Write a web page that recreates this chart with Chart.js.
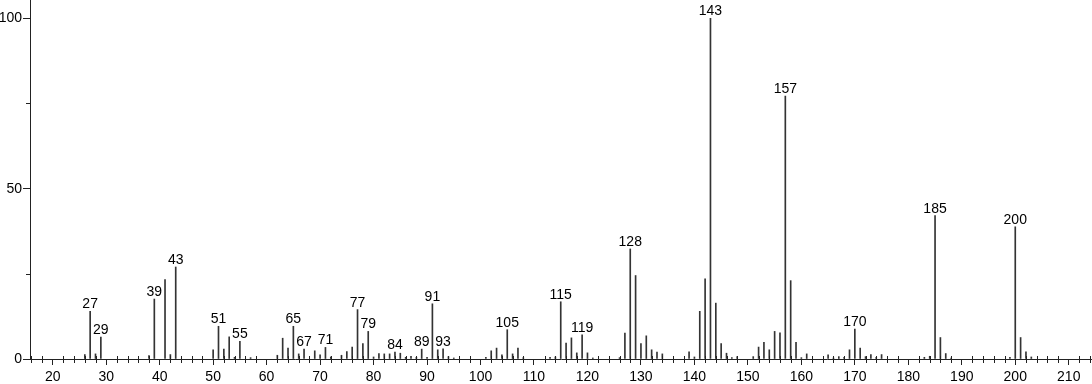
<!DOCTYPE html>
<html>
<head>
<meta charset="utf-8">
<script src="https://cdn.jsdelivr.net/npm/chart.js@4.4.1/dist/chart.umd.min.js"></script>
<style>
  html, body { margin: 0; padding: 0; background: #fff; }
  #wrap { width: 1092px; height: 384px; position: relative; }
</style>
</head>
<body>
<div id="wrap"><canvas id="spectrum"></canvas></div>
<script>
'use strict';

// ---- Spectrum data (m/z and relative intensity) ----
const masses = [
  26, 27, 28, 29, 38, 39, 41, 42, 43,
  50, 51, 52, 53, 54, 55, 57,
  62, 63, 64, 65, 66, 67, 69, 70, 71, 72, 74, 75, 76, 77, 78, 79,
  80, 81, 82, 83, 84, 85, 86, 87, 88, 89, 90, 91, 92, 93, 94, 95,
  101, 102, 103, 104, 105, 106, 107, 108, 113, 114, 115, 116, 117, 118, 119,
  120, 121, 126, 127, 128, 129, 130, 131, 132, 133, 134, 139,
  140, 141, 142, 143, 144, 145, 146, 147, 148, 151, 152, 153, 154, 155, 156, 157, 158, 159,
  160, 161, 165, 166, 167, 168, 169, 170, 171, 172, 173, 174, 175,
  183, 184, 185, 186, 187, 188, 199, 200, 201, 202, 203
];
const intensities = [
  1.3, 14.0, 1.5, 6.4, 1.0, 17.6, 23.3, 1.3, 27.0,
  2.7, 9.6, 2.9, 6.5, 0.5, 5.2, 0.4,
  1.1, 6.1, 3.2, 9.6, 1.5, 2.9, 2.4, 1.2, 3.4, 0.6, 1.1, 2.2, 3.5, 14.5, 4.5, 8.1,
  0.6, 1.6, 1.5, 1.5, 2.0, 1.7, 0.5, 0.8, 0.5, 2.9, 0.5, 16.2, 2.7, 3.0, 0.7, 0.3,
  0.5, 2.4, 3.2, 1.2, 8.6, 1.5, 3.2, 0.4, 0.5, 0.6, 16.8, 4.7, 6.2, 1.8, 7.1,
  1.8, 0.3, 0.4, 7.6, 32.3, 24.5, 4.5, 6.8, 2.7, 2.0, 1.5, 2.1,
  0.6, 14.0, 23.5, 100, 16.4, 4.5, 1.7, 0.4, 0.7, 0.7, 3.5, 4.9, 2.7, 8.1, 7.7, 77.2, 23.0, 4.9,
  0.4, 1.5, 1.2, 0.3, 0.7, 0.5, 2.7, 8.8, 3.2, 0.7, 1.3, 0.5, 1.3,
  0.5, 0.8, 42.1, 6.3, 1.6, 0.3, 0.5, 38.8, 6.3, 2.1, 0.6
];
const labeledMasses = [27, 29, 39, 43, 51, 55, 65, 67, 71, 77, 79, 84, 89, 91, 93,
  105, 115, 119, 128, 143, 157, 170, 185, 200];
const xTickLabels = [20, 30, 40, 50, 60, 70, 80, 90, 100, 110, 120, 130, 140, 150, 160, 170, 180, 190, 200, 210];
const yTickLabels = [0, 50, 100];

const AXIS_COLOR = '#222';
const BAR_COLOR = '#333';
const FONT = { family: "'Liberation Sans', Arial, sans-serif", size: 14 };

// ---- peak labels above the labelled bars ----
const peakLabels = {
  id: 'peakLabels',
  afterDatasetsDraw(chart) {
    const ctx = chart.ctx;
    const meta = chart.getDatasetMeta(0);
    ctx.save();
    ctx.font = FONT.size + 'px ' + FONT.family;
    ctx.fillStyle = '#000';
    ctx.textAlign = 'center';
    ctx.textBaseline = 'alphabetic';
    masses.forEach((m, i) => {
      if (!labeledMasses.includes(m)) return;
      const bar = meta.data[i];
      ctx.fillText(String(m), bar.x, bar.y - 3);
    });
    ctx.restore();
  }
};

// ---- minor tick marks (cross the x axis, short on y) ----
const minorTicks = {
  id: 'minorTicks',
  afterDraw(chart) {
    const { ctx, chartArea, scales: { x, y } } = chart;
    ctx.save();
    ctx.strokeStyle = AXIS_COLOR;
    ctx.lineWidth = 1;
    ctx.beginPath();
    x.ticks.forEach(t => {
      if (xTickLabels.includes(t.value)) return;
      const px = Math.round(x.getPixelForValue(t.value)) + 0.5;
      ctx.moveTo(px, chartArea.bottom - 3);
      ctx.lineTo(px, chartArea.bottom + 4);
    });
    y.ticks.forEach(t => {
      if (yTickLabels.includes(t.value)) return;
      const py = Math.round(y.getPixelForValue(t.value)) + 0.5;
      ctx.moveTo(chartArea.left - 4, py);
      ctx.lineTo(chartArea.left, py);
    });
    ctx.stroke();
    ctx.restore();
  }
};

new Chart(document.getElementById('spectrum'), {
  type: 'bar',
  data: {
    datasets: [{
      data: masses.map((m, i) => ({ x: m, y: intensities[i] })),
      backgroundColor: BAR_COLOR,
      borderWidth: 0,
      barThickness: 1,
    }]
  },
  options: {
    responsive: true,
    maintainAspectRatio: false,
    animation: false,
    layout: { padding: 0 },
    plugins: { legend: { display: false }, tooltip: { enabled: false } },
    scales: {
      x: {
        type: 'linear',
        min: 15.75,
        max: 214.35,
        offset: false,
        grid: {
          offset: false,
          drawOnChartArea: false,
          tickLength: 6,
          tickColor: c => xTickLabels.includes(c.tick && c.tick.value) ? AXIS_COLOR : 'rgba(0,0,0,0)',
        },
        border: { display: true, color: AXIS_COLOR },
        ticks: {
          stepSize: 2,
          includeBounds: false,
          autoSkip: false,
          maxRotation: 0,
          padding: 4,
          color: '#000',
          font: FONT,
          callback: v => xTickLabels.includes(v) ? String(v) : '',
        },
        afterFit: s => { s.height = 25; s.paddingLeft = 0; s.paddingRight = 0; },
      },
      y: {
        min: 0,
        max: 105.37,
        grid: {
          drawOnChartArea: false,
          tickLength: 7,
          tickColor: c => yTickLabels.includes(c.tick && c.tick.value) ? AXIS_COLOR : 'rgba(0,0,0,0)',
        },
        border: { display: true, color: AXIS_COLOR },
        ticks: {
          stepSize: 25,
          includeBounds: false,
          padding: 1,
          color: '#000',
          font: FONT,
          callback: v => yTickLabels.includes(v) ? String(v) : '',
        },
        afterFit: s => { s.width = 30; s.paddingTop = 0; s.paddingBottom = 0; },
      }
    }
  },
  plugins: [peakLabels, minorTicks]
});
</script>
</body>
</html>
